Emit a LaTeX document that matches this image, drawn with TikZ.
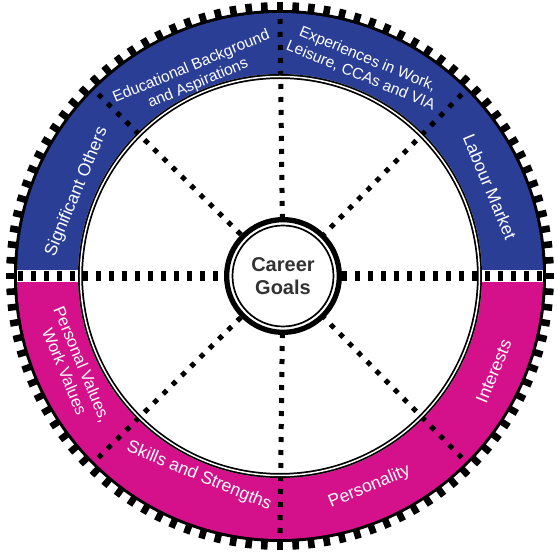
\documentclass[tikz,border=0pt]{standalone}
\usepackage{fontspec}
\setmainfont{Liberation Sans}
\definecolor{bandblue}{RGB}{42,62,150}
\definecolor{bandpink}{RGB}{212,17,138}
\definecolor{goalgray}{RGB}{50,50,50}
\begin{document}
\begin{tikzpicture}[x=1pt,y=1pt,
  tooth/.style={fill=black},
  spoke/.style={draw=black,line width=5pt,dash pattern=on 5pt off 8pt},
  hspoke/.style={draw=black,line width=10pt,dash pattern=on 5pt off 8pt},
  bandlabel/.style={text=white,align=center,inner sep=0pt,font=\fontsize{17.5}{20}\selectfont},
  smalllabel/.style={text=white,align=center,inner sep=0pt,font=\fontsize{15.5}{18}\selectfont},
  midlabel/.style={text=white,align=center,inner sep=0pt,font=\fontsize{16.5}{19}\selectfont},
  goalnode/.style={circle,draw=black,fill=white,line width=5.3pt,minimum size=112.7pt,inner sep=0pt,
    align=center,text=goalgray,font=\bfseries\fontsize{20}{23}\selectfont}]
\useasboundingbox (-280,-277) rectangle (278,276);
% teeth
\foreach \i in {0,...,107} {
  \pgfmathsetmacro{\ang}{\i*10/3+90}
  \fill[tooth,rotate=\ang] (264,-3.3) rectangle (274,3.3);
}
% outline and bands
\fill[black] (0,0) circle (266);
\fill[bandblue] (263,0) arc (0:180:263) -- (-202,0) arc (180:0:202) -- cycle;
\fill[bandpink] (263,0) arc (0:-180:263) -- (-202,0) arc (-180:0:202) -- cycle;
\fill[white] (0,0) circle (202);
\fill[white] (-263,-6) rectangle (-200,6);
\fill[white] (200,-6) rectangle (263,6);
% centre
\node[goalnode] (goal) at (3,0) {Career\\Goals};
% spokes
\coordinate (e) at (0:262);
\coordinate (w) at (180:262);
\coordinate (n) at (90:257);
\coordinate (s) at (270:257);
\coordinate (ne) at (45:257);
\coordinate (nw) at (135:257);
\coordinate (sw) at (225:257);
\coordinate (se) at (315:257);
\draw[hspoke] (w) -- (goal);
\draw[hspoke] (e) -- (goal);
\draw[spoke] (n) -- (goal);
\draw[spoke] (s) -- (goal);
\draw[spoke] (ne) -- (goal);
\draw[spoke] (nw) -- (goal);
\draw[spoke] (sw) -- (goal);
\draw[spoke] (se) -- (goal);
% double ring
\draw[black,line width=5pt] (0,0) circle (199.5);
\draw[white,line width=1.5pt] (0,0) circle (199.5);
% inner thin ring of centre
\draw[black,line width=1.7pt] (goal.center) circle (50.5);
% labels
\node[bandlabel,rotate=67.5] (sig) at (157.5:220) {Significant Others};
\node[smalllabel,rotate=22.5] (edu) at (113:218) {Educational Background\\and Aspirations};
\node[smalllabel,rotate=-22.5] (exp) at (68:225) {Experiences in Work,\\Leisure, CCAs and VIA};
\node[bandlabel,rotate=-67.5] (lab) at (23:228) {Labour Market};
\node[midlabel,rotate=-67.5] (val) at (204:226) {Personal Values,\\Work Values};
\node[bandlabel,rotate=-22.5] (ski) at (248:216) {Skills and Strengths};
\node[bandlabel,rotate=22.5] (per) at (293:229) {Personality};
\node[bandlabel,rotate=67.5] (int) at (336:234) {Interests};
\end{tikzpicture}
\end{document}
